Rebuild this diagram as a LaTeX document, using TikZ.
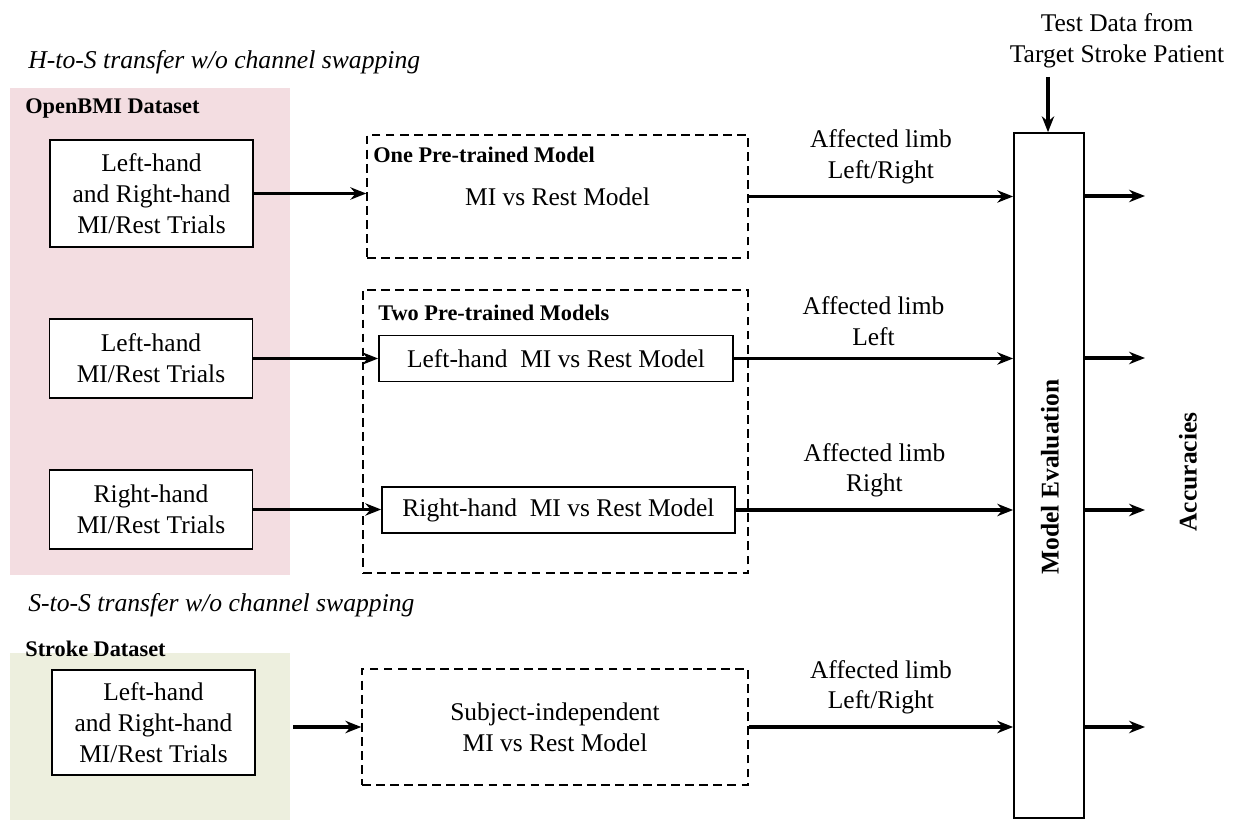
\documentclass[tikz,border=0pt]{standalone}
\usepackage{fontspec}
\setmainfont{Liberation Serif}
\usetikzlibrary{positioning}
\usetikzlibrary{arrows.meta}
\definecolor{pinkbg}{RGB}{243,221,225}
\definecolor{greenbg}{RGB}{237,239,222}

\begin{document}
\begin{tikzpicture}[x=0.02cm,y=-0.02cm,>={Stealth[length=9pt,width=7pt]},
		every node/.style={font=\fontsize{14.5}{17.5}\selectfont},
		trials/.style={rectangle,draw=black,line width=1pt,fill=white,align=center,minimum width=4.06cm},
		modelbox/.style={rectangle,draw=black,line width=1pt,fill=white,minimum width=7.08cm,minimum height=0.92cm},
		grpbox/.style={rectangle,draw=black,line width=0.9pt,dash pattern=on 5pt off 3pt,align=center},
		grplabel/.style={anchor=west,inner sep=0pt,font=\fontsize{12.7}{15}\selectfont\bfseries},
		heading/.style={anchor=west,inner sep=0pt,font=\fontsize{14.6}{17}\selectfont\itshape},
		flow/.style={->,line width=1.8pt},
		limb/.style={above=3pt,align=center}]
		\useasboundingbox (0,0) rectangle (1234,820);
		\fill[pinkbg] (10,88) rectangle (290,575);
		\fill[greenbg] (10,653) rectangle (290,820);
		
		% healthy to stroke
		\node[heading]  (hts)     at (28,62)       {H-to-S transfer w/o channel swapping};
		\node[grplabel] (openbmi) at (25,108)      {OpenBMI Dataset};
		\node[trials,minimum height=2.14cm] (lr1) at (151.5,193.5) {Left-hand\\and Right-hand\\MI/Rest Trials};
		\node[trials,minimum height=1.58cm] (l1)  at (151,358.5)   {Left-hand\\MI/Rest Trials};
		\node[trials,minimum height=1.58cm] (r1)  at (151,509.5)   {Right-hand\\MI/Rest Trials};
		
		\node[grpbox,minimum width=7.62cm,minimum height=2.46cm] (one) at (557.5,196.5) {MI vs Rest Model};
		\node[grplabel] (onelbl) at (373,155) {One Pre-trained Model};
		\node[grpbox,minimum width=7.7cm,minimum height=5.66cm]  (two) at (555.5,431.5) {};
		\node[grplabel] (twolbl) at (378,313) {Two Pre-trained Models};
		\node[modelbox] (lmod) at (556,358.5) {Left-hand~ MI vs Rest Model};
		\node[modelbox,minimum width=7.06cm] (rmod) at (558.5,510) {Right-hand~ MI vs Rest Model};
		
		% stroke to stroke
		\node[heading]  (sts)    at (28,605) {S-to-S transfer w/o channel swapping};
		\node[grplabel] (stroke) at (25,649) {Stroke Dataset};
		\node[trials,minimum height=2.1cm] (lr2) at (153.5,722.5) {Left-hand\\and Right-hand\\MI/Rest Trials};
		\node[grpbox,minimum width=7.72cm,minimum height=2.32cm] (sub) at (555,727) {Subject-independent\\MI vs Rest Model};
		\coordinate (s4) at (293,727);
		
		% evaluation
		\node[rectangle,draw=black,line width=1pt,minimum width=1.4cm,minimum height=13.7cm] (eval) at (1049,475.5) {};
		\node[rotate=90,font=\fontsize{14.5}{17.5}\selectfont\bfseries] (evallbl) at (1050,477) {Model Evaluation};
		\node[align=center] (test) at (1117,41) {Test Data from\\Target Stroke Patient};
		\node[rotate=90,font=\fontsize{14.5}{17.5}\selectfont\bfseries] (acc) at (1188,472) {Accuracies};
		\coordinate (tin) at (1048,77);
		
		\draw[flow] (lr1.east) -- (lr1.east -| one.west);
		\draw[flow] (one.east) -- (one.east -| eval.west) node[limb,midway] {Affected limb\\Left/Right};
		\draw[flow] (l1.east) -- (l1.east -| lmod.west);
		\draw[flow] (lmod.east) -- (lmod.east -| eval.west) node[limb,midway] {Affected limb\\Left};
		\draw[flow] (r1.east) -- (r1.east -| rmod.west);
		\draw[flow] (rmod.east) -- (rmod.east -| eval.west) node[limb,midway] {Affected limb\\Right};
		\draw[flow] (s4) -- (sub.west);
		\draw[flow] (sub.east) -- (sub.east -| eval.west) node[limb,midway] {Affected limb\\Left/Right};
		\draw[flow] (tin) -- (tin |- eval.north);
		\foreach \y [count=\i] in {196,358,510,727} {
			\coordinate (out\i) at (1145,\y);
			\draw[flow] (eval.east |- out\i) -- (out\i);
		}
	\end{tikzpicture}
\end{document}
